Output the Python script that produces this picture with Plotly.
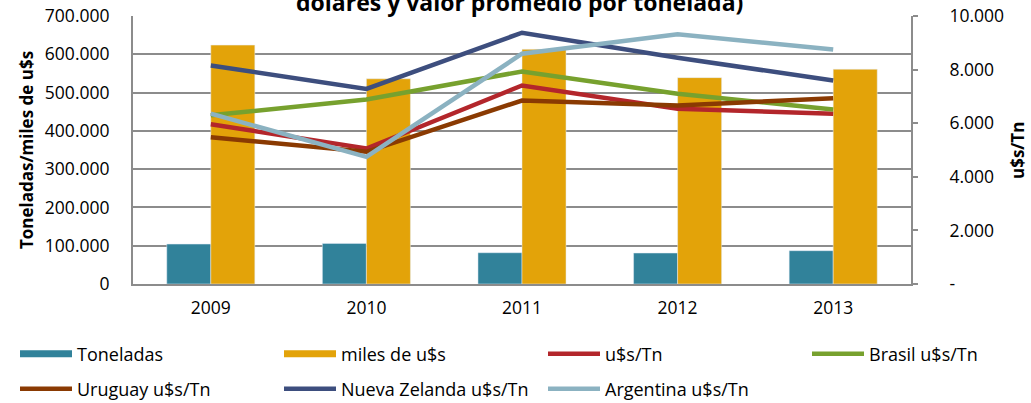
import plotly.graph_objects as go

years = ["2009", "2010", "2011", "2012", "2013"]
toneladas = [104300, 106100, 81700, 80900, 87000]
miles_usd = [624000, 536000, 613000, 539000, 561000]
usd_tn = [5961, 5056, 7408, 6536, 6349]
brasil = [6293, 6884, 7931, 7097, 6511]
uruguay = [5480, 4932, 6847, 6660, 6935]
nueva_zelanda = [8153, 7278, 9377, 8442, 7595]
argentina = [6355, 4745, 8592, 9315, 8754]

left_ticks = [0, 100000, 200000, 300000, 400000, 500000, 600000, 700000]
right_ticks = [0, 2000, 4000, 6000, 8000, 10000]
right_ticktext = ["-"] + [f"{v:,}".replace(",", ".") for v in right_ticks[1:]]

C_TON = "#31829A"
C_MIL = "#E3A309"
C_RED = "#B3262B"
C_GRN = "#77A12E"
C_BRN = "#8A3A02"
C_NZ = "#3D4E7E"
C_ARG = "#8BB2C1"
GRID = "#8C8C8C"
FONT = "Open Sans"

W, H = 1031, 403
L, R, T, B = 133, 911, 16, 284
pw, ph = R - L, B - T

def px_x(p):
    return (p - L) / pw

# legend slots (column x in px, row y in px)
COLS = [15, 279, 543, 807]
ROWS = [354, 389]

fig = go.Figure()
fig.add_trace(go.Bar(x=years, y=toneladas, name="Toneladas", marker_color=C_TON,
                     showlegend=False, yaxis="y"))
fig.add_trace(go.Bar(x=years, y=miles_usd, name="miles de u$s", marker_color=C_MIL,
                     showlegend=False, yaxis="y"))

entries = [
    # name, values, colour, is_bar
    ("Toneladas", None, C_TON, True),
    ("miles de u$s", None, C_MIL, True),
    ("u$s/Tn", usd_tn, C_RED, False),
    ("Brasil u$s/Tn", brasil, C_GRN, False),
    ("Uruguay u$s/Tn", uruguay, C_BRN, False),
    ("Nueva Zelanda u$s/Tn", nueva_zelanda, C_NZ, False),
    ("Argentina u$s/Tn", argentina, C_ARG, False),
]

legend_layout = {}
for i, (name, vals, col, is_bar) in enumerate(entries):
    lg = "legend" if i == 0 else f"legend{i + 1}"
    if is_bar:
        # legend-only entry drawn as a wide rectangle, like the reference key
        fig.add_trace(go.Scatter(x=[None], y=[None], mode="lines", name=name,
                                 line=dict(color=col, width=7), legend=lg))
    else:
        fig.add_trace(go.Scatter(x=years, y=vals, name=name, mode="lines",
                                 line=dict(color=col, width=4.5), yaxis="y2", legend=lg))
    legend_layout[lg] = dict(
        x=COLS[i % 4] / W, y=1 - ROWS[i // 4] / H,
        xref="container", yref="container",
        orientation="h", xanchor="left", yanchor="middle",
        font=dict(family=FONT, size=18, color="#000000"),
        bgcolor="rgba(0,0,0,0)", itemwidth=52,
    )

fig.update_layout(
    width=W, height=H,
    margin=dict(l=L, r=W - R, t=T, b=H - B, pad=0),
    paper_bgcolor="white", plot_bgcolor="white",
    separators=",.",
    barmode="group", bargap=0.434, bargroupgap=0,
    font=dict(family=FONT, size=17, color="#000000"),
    xaxis=dict(type="category", showline=True, linecolor=GRID, linewidth=2,
               showgrid=False, ticks="", ticklabelstandoff=7, automargin=False,
               tickfont=dict(family=FONT, size=17.5)),
    yaxis=dict(range=[0, 700000], tickvals=left_ticks, tickformat=",d",
               showline=True, linecolor=GRID, linewidth=2, automargin=False,
               showgrid=True, gridcolor=GRID, gridwidth=1.5,
               ticks="", ticklabelstandoff=18, zeroline=False,
               tickfont=dict(family=FONT, size=17.5)),
    yaxis2=dict(range=[0, 10000], overlaying="y", side="right",
                tickvals=right_ticks, ticktext=right_ticktext, automargin=False,
                showline=True, linecolor=GRID, linewidth=2,
                showgrid=False, zeroline=False,
                ticks="outside", ticklen=5, tickcolor=GRID, tickwidth=1.5,
                ticklabelstandoff=28,
                tickfont=dict(family=FONT, size=17.5)),
    annotations=[
        dict(text="<b>dolares y valor promedio por tonelada)</b>", xref="paper", yref="paper",
             x=px_x(519), y=1, xanchor="center", yanchor="bottom", yshift=-4,
             showarrow=False, font=dict(family=FONT, size=23, color="#000000")),
        dict(text="<b>Toneladas/miles de u$s</b>", xref="paper", yref="paper",
             x=px_x(26), y=0.5, xanchor="center", yanchor="middle", textangle=-90,
             showarrow=False, font=dict(family=FONT, size=17, color="#000000")),
        dict(text="<b>u$s/Tn</b>", xref="paper", yref="paper",
             x=px_x(1017), y=0.5, xanchor="center", yanchor="middle", textangle=-90,
             showarrow=False, font=dict(family=FONT, size=17, color="#000000")),
    ],
    **legend_layout,
)

fig.write_html("out.html", config={"displayModeBar": False},
               post_script="document.body.style.margin='0';")
